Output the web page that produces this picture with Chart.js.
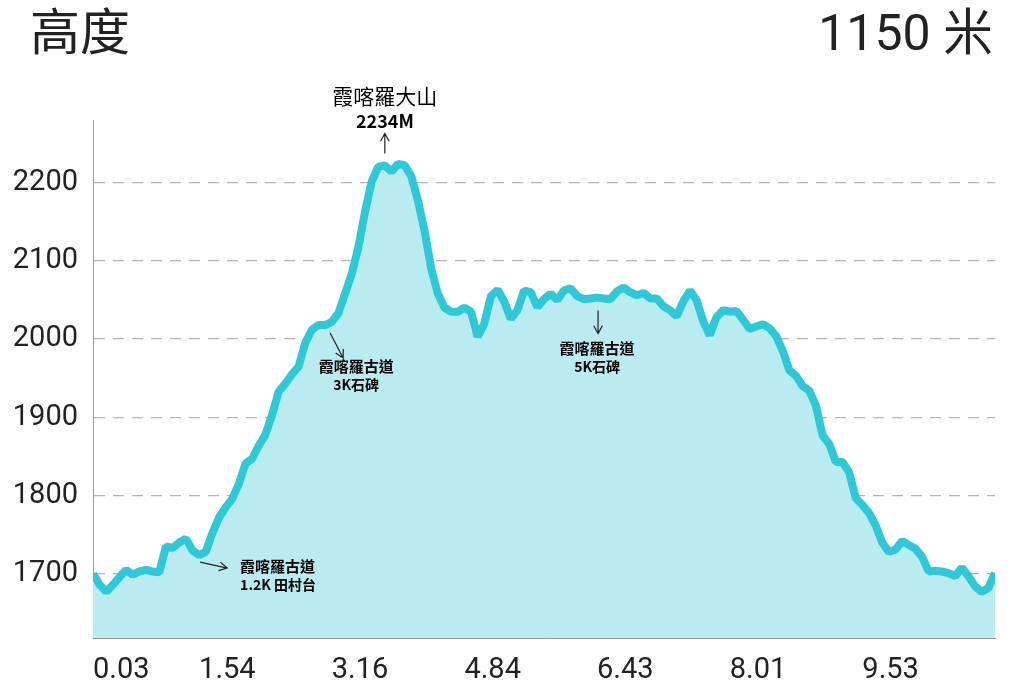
<!DOCTYPE html>
<html>
<head>
<meta charset="utf-8">
<script src="https://cdn.jsdelivr.net/npm/chart.js@4.4.0/dist/chart.umd.min.js"></script>
<style>
  html, body { margin: 0; padding: 0; background: #fff; }
  #wrap { position: relative; width: 1024px; height: 692px; overflow: hidden; }
  #chart { position: absolute; left: 0; top: 0; }
  .head {
    position: absolute; top: 8px; line-height: 50px; font-size: 50px; color: #222;
    font-family: Roboto, "Noto Sans CJK TC", sans-serif; white-space: nowrap;
  }
  #titleLeft { left: 30px; }
  #titleRight { right: 31px; }
</style>
</head>
<body>
<div id="wrap">
  <div class="head" id="titleLeft">高度</div>
  <div class="head" id="titleRight">1150 米</div>
  <canvas id="chart" width="1024" height="692"></canvas>
</div>
<script>
// Dữ liệu độ cao (m), mỗi điểm cách đều nhau trên trục ngang
const elevations = [
  1700, 1686, 1677, 1686, 1696, 1705, 1699, 1703, 1705, 1703,
  1702, 1735, 1733, 1740, 1745, 1730, 1724, 1728, 1752, 1772,
  1785, 1796, 1815, 1841, 1847, 1864, 1878, 1903, 1933, 1943,
  1955, 1965, 1995, 2012, 2018, 2018, 2022, 2033, 2058, 2083,
  2117, 2162, 2201, 2220, 2222, 2214, 2224, 2222, 2208, 2177,
  2138, 2090, 2058, 2040, 2035, 2035, 2040, 2035, 2003, 2020,
  2055, 2063, 2048, 2026, 2037, 2062, 2060, 2041, 2051, 2058,
  2050, 2062, 2065, 2055, 2051, 2052, 2053, 2052, 2051, 2061,
  2066, 2060, 2056, 2059, 2052, 2052, 2042, 2037, 2029, 2048,
  2062, 2050, 2023, 2005, 2028, 2037, 2035, 2036, 2025, 2013,
  2016, 2019, 2014, 2004, 1985, 1960, 1953, 1940, 1934, 1915,
  1877, 1866, 1843, 1843, 1830, 1797, 1788, 1778, 1762, 1740,
  1728, 1731, 1742, 1737, 1732, 1722, 1703, 1704, 1703, 1701,
  1697, 1708, 1697, 1684, 1677, 1682, 1701
];

// Nhãn khoảng cách (km) và điểm mà nhãn gắn vào
const distanceIndex = [0, 16, 36, 56, 76, 96, 116];
const distanceLabels = ["0.03", "1.54", "3.16", "4.84", "6.43", "8.01", "9.53"];

// Nhãn trục độ cao
const elevationTicks = [1700, 1800, 1900, 2000, 2100, 2200];

// Ghi chú trên đường
const noteIndex = [44, 35, 76, 16];
const noteLines = [
  ["霞喀羅大山", "2234M"],
  ["霞喀羅古道", "3K石碑"],
  ["霞喀羅古道", "5K石碑"],
  ["霞喀羅古道", "1.2K 田村台"]
];

// Vị trí chữ / mũi tên so với điểm (pixel)
const noteLayout = [
  { arrow: [0, -12, 0, -32], text: [0, -69, 0, -44], align: "center", size: [21, 18], weight: "normal" },
  { arrow: [5, 8, 18, 33], text: [31, 41, 31, 60], align: "center", size: [15, 14], weight: "bold" },
  { arrow: [1, 13, 1, 36], text: [0, 51, 0, 69], align: "center", size: [15, 14], weight: "bold" },
  { arrow: [1, 7, 28, 13], text: [41, 11, 41, 30], align: "left", size: [15, 14], weight: "bold" }
];

const LINE_COLOR = "#2ec8d8";
const FILL_COLOR = "#b9ebf0";
const TEXT_COLOR = "#222";

function drawArrow(ctx, x1, y1, x2, y2) {
    const ang = Math.atan2(y2 - y1, x2 - x1);
    const head = 9;
    ctx.beginPath();
    ctx.moveTo(x1, y1);
    ctx.lineTo(x2, y2);
    ctx.moveTo(x2 - head * Math.cos(ang - 0.5), y2 - head * Math.sin(ang - 0.5));
    ctx.lineTo(x2, y2);
    ctx.lineTo(x2 - head * Math.cos(ang + 0.5), y2 - head * Math.sin(ang + 0.5));
    ctx.stroke();
}

const notesPlugin = {
    id: "notes",
    afterDatasetsDraw(chart) {
        const { ctx, scales: { x, y } } = chart;
        ctx.save();
        ctx.strokeStyle = TEXT_COLOR;
        ctx.fillStyle = "#000";
        ctx.lineWidth = 1.2;
        noteIndex.forEach((idx, n) => {
            const px = x.getPixelForValue(idx);
            const py = y.getPixelForValue(elevations[idx]);
            const L = noteLayout[n];
            drawArrow(ctx, px + L.arrow[0], py + L.arrow[1], px + L.arrow[2], py + L.arrow[3]);
            ctx.textAlign = L.align;
            ctx.textBaseline = "middle";
            ctx.font = `${L.weight} ${L.size[0]}px "Noto Sans CJK TC", sans-serif`;
            ctx.fillText(noteLines[n][0], px + L.text[0], py + L.text[1]);
            ctx.font = `bold ${L.size[1]}px "Noto Sans CJK TC", sans-serif`;
            ctx.fillText(noteLines[n][1], px + L.text[2], py + L.text[3]);
        });
        ctx.restore();
    }
};

function renderChart() {
    const ctx = document.querySelector("#chart").getContext("2d");
    new Chart(ctx, {
        type: "line",
        data: {
            datasets: [{
                data: elevations.map((v, i) => ({ x: i, y: v })),
                borderColor: LINE_COLOR,
                backgroundColor: FILL_COLOR,
                borderWidth: 8,
                borderJoinStyle: "bevel",
                pointRadius: 0,
                tension: 0,
                fill: "start"
            }]
        },
        options: {
            responsive: false,
            animation: false,
            layout: { padding: { top: 120, right: 29, left: 0, bottom: 0 } },
            plugins: {
                legend: { display: false },
                tooltip: { enabled: false }
            },
            scales: {
                x: {
                    type: "linear",
                    min: 0,
                    max: elevations.length - 1,
                    afterBuildTicks: (scale) => {
                        scale.ticks = distanceIndex.map(v => ({ value: v }));
                    },
                    afterFit: (scale) => { scale.height = 54; },
                    grid: { display: false, drawTicks: false },
                    border: { display: true, color: "#999", width: 1 },
                    ticks: {
                        autoSkip: false,
                        maxRotation: 0,
                        align: "start",
                        padding: 15,
                        color: TEXT_COLOR,
                        font: { family: "Roboto", size: 29 },
                        callback: (value) => distanceLabels[distanceIndex.indexOf(value)]
                    }
                },
                y: {
                    min: 1618,
                    max: 2280,
                    afterBuildTicks: (scale) => {
                        scale.ticks = elevationTicks.map(v => ({ value: v }));
                    },
                    afterFit: (scale) => { scale.width = 93; },
                    grid: { color: "#b5b5b5", lineWidth: 1.3, drawTicks: false },
                    border: { display: true, color: "#999", width: 1, dash: [11, 8] },
                    ticks: {
                        padding: 15,
                        color: TEXT_COLOR,
                        font: { family: "Roboto", size: 29 },
                        callback: (value) => String(value)
                    }
                }
            }
        },
        plugins: [notesPlugin]
    });
}

renderChart();
</script>
</body>
</html>
